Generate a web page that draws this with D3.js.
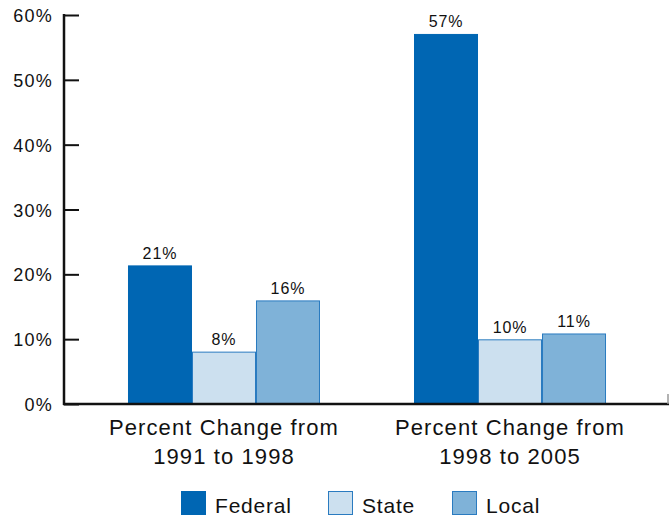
<!DOCTYPE html>
<html><head><meta charset="utf-8">
<script src="https://cdn.jsdelivr.net/npm/d3@7"></script>
<style>body{margin:0;background:#fff}svg{display:block}text{font-family:"Liberation Sans",Arial,sans-serif;fill:#111}</style>
</head><body>
<script>
const categories = [["Percent Change from","1991 to 1998"],["Percent Change from","1998 to 2005"]];
const seriesNames = ["Federal","State","Local"];
const federal = [21.3, 57.0];
const state = [8.0, 9.9];
const local = [15.9, 10.8];
const valueLabels = [["21%","8%","16%"],["57%","10%","11%"]];
const yTicks = [0,10,20,30,40,50,60];

const W = 669, H = 518;
const fills = ["#0066b3","#cce0ef","#7fb2d8"];
const strokes = ["#0066b3","#2a7bc0","#2a7bc0"];
const svg = d3.select("body").append("svg").attr("width",W).attr("height",H);

const y = d3.scaleLinear().domain([0,60]).range([404,15]);
const x0 = d3.scaleBand().domain([0,1]).range([81,653]).paddingInner(0.3287).paddingOuter(0.1643);
const x1 = d3.scaleBand().domain([0,1,2]).range([0,x0.bandwidth()]);
const data = [federal,state,local];

// bars
categories.forEach((c,i)=>{
  const g = svg.append("g").attr("transform",`translate(${x0(i)},0)`);
  seriesNames.forEach((s,j)=>{
    const v = data[j][i];
    g.append("rect").attr("x",x1(j)+0.5).attr("y",y(v)).attr("width",x1.bandwidth()-1).attr("height",y(0)-y(v))
      .attr("fill",fills[j]).attr("stroke",strokes[j]).attr("stroke-width",1);
    g.append("text").attr("x",x1(j)+x1.bandwidth()/2).attr("y",y(v)-7).attr("text-anchor","middle")
      .attr("font-size",16).attr("letter-spacing",0.9).text(valueLabels[i][j]);
  });
  const t = svg.append("text").attr("x",x0(i)+x0.bandwidth()/2).attr("text-anchor","middle").attr("font-size",22).attr("letter-spacing",1.1);
  c.forEach((line,k)=>t.append("tspan").attr("x",x0(i)+x0.bandwidth()/2).attr("y",435+k*29).text(line));
});

// y axis
const yAxis = d3.axisRight(y).tickValues(yTicks).tickSize(15).tickFormat(d=>"");
const ya = svg.append("g").attr("transform","translate(64,0)").call(yAxis);
ya.select(".domain").remove();
ya.selectAll("line").attr("stroke","#111").attr("stroke-width",2);
svg.append("line").attr("x1",64).attr("x2",64).attr("y1",14).attr("y2",405).attr("stroke","#111").attr("stroke-width",2.5);
yTicks.forEach(t=>{
  svg.append("text").attr("x",53).attr("y",y(t)+7).attr("text-anchor","end").attr("font-size",18).attr("letter-spacing",1.2).text(t+"%");
});
// x axis line
svg.append("line").attr("x1",63).attr("x2",669).attr("y1",404).attr("y2",404).attr("stroke","#111").attr("stroke-width",2.5);
svg.append("line").attr("x1",668).attr("x2",668).attr("y1",394).attr("y2",404).attr("stroke","#999").attr("stroke-width",1.5);

// legend
const legX = [181,328,452];
seriesNames.forEach((s,j)=>{
  svg.append("rect").attr("x",legX[j]+0.5).attr("y",491.5).attr("width",24).attr("height",23)
    .attr("fill",fills[j]).attr("stroke",strokes[j]);
  svg.append("text").attr("x",legX[j]+34).attr("y",512.5).attr("font-size",21).attr("letter-spacing",0.8).text(s);
});
</script>
</body></html>
